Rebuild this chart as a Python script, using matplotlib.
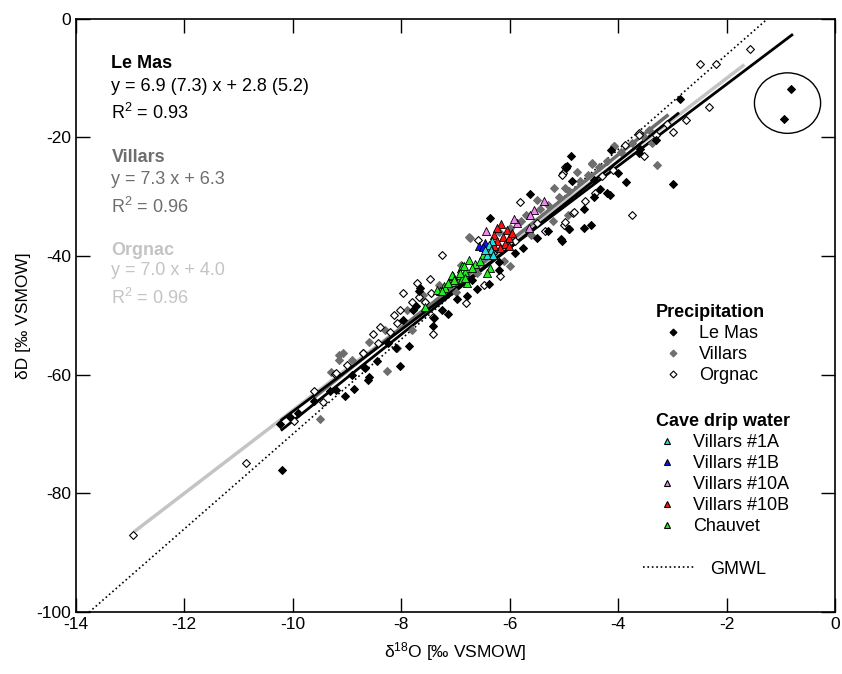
import numpy as np
import matplotlib
matplotlib.use("Agg")
import matplotlib.pyplot as plt
from matplotlib.lines import Line2D
from matplotlib.patches import Ellipse

plt.rcParams['font.family'] = ['Liberation Sans', 'DejaVu Sans']
plt.rcParams['mathtext.fontset'] = 'custom'
plt.rcParams['mathtext.rm'] = 'Liberation Sans'
plt.rcParams['mathtext.it'] = 'Liberation Sans:italic'
plt.rcParams['axes.unicode_minus'] = False

# precipitation (d18O, dD)
lemas_x = [-0.81, -0.95, -10.2, -3.86, -3.0, -4.87, -4.96, -4.13, -4.21, -4.34, -4.45, -4.64,
           -4.63, -4.51, -4.90, -5.06, -4.85, -3.61, -2.87, -4.16, -5.62, -6.37, -5.04, -4.91,
           -5.75, -6.19, -6.39, -7.67, -7.73, -7.78, -7.13, -7.25, -7.42, -7.96, -7.85, -8.02,
           -8.69, -8.45, -8.24, -6.97, -6.79, -7.65, -8.60, -9.31, -9.20, -9.04, -8.87, -8.67,
           -8.62, -10.05, -10.23, -4.95, -5.9, -5.5, -5.3, -6.2, -6.6, -7.4, -8.1, -8.9,
           -9.6, -9.9, -3.6, -3.3, -4.0, -4.45, -6.7]
lemas_y = [-11.9, -16.8, -76.1, -27.5, -27.8, -23.2, -25.1, -22.1, -29.4, -28.6, -30.0, -32.1,
           -35.3, -34.7, -35.4, -37.1, -27.4, -22.6, -13.5, -29.7, -29.5, -33.6, -37.5, -35.4,
           -38.7, -42.3, -44.7, -45.9, -48.4, -49.0, -49.7, -49.0, -51.8, -50.7, -55.2, -58.5,
           -58.7, -57.6, -54.6, -47.3, -46.8, -45.4, -60.3, -62.8, -62.6, -63.6, -62.4, -58.9,
           -60.9, -67.1, -68.3, -24.8, -39.5, -37.0, -35.8, -41.0, -45.5, -50.5, -55.5, -60.0,
           -64.5, -66.5, -22.0, -20.5, -26.0, -27.2, -44.0]

villars_x = [-3.28, -4.07, -4.48, -4.76, -4.98, -4.93, -3.38, -4.48, -5.19, -5.50, -6.73, -5.99,
             -6.11, -9.14, -9.07, -8.27, -8.08, -7.80, -7.59, -6.76, -9.15, -9.50, -3.44, -4.08,
             -6.4, -6.2, -6.0, -5.8, -5.7, -5.45, -5.3, -5.1, -4.9, -4.7, -4.55, -4.35,
             -4.2, -3.95, -3.75, -3.55, -6.9, -7.3, -7.6, -7.9, -8.3, -8.6, -8.9, -9.3,
             -7.0, -6.6, -5.6, -5.2]
villars_y = [-24.7, -21.4, -24.3, -25.8, -28.5, -33.0, -20.9, -24.4, -28.5, -30.5, -37.0, -41.7,
             -40.9, -56.6, -56.3, -59.4, -55.5, -52.4, -47.6, -36.8, -57.5, -67.5, -18.7, -21.5,
             -38.5, -36.0, -35.2, -34.0, -33.0, -32.0, -31.3, -30.0, -29.0, -27.3, -26.3, -25.0,
             -24.0, -22.4, -21.0, -19.8, -41.5, -44.8, -46.5, -49.0, -52.5, -54.5, -57.5, -59.5,
             -46.0, -42.8, -36.5, -34.0]

orgnac_x = [-2.99, -3.53, -3.75, -3.61, -3.87, -4.42, -4.61, -4.83, -5.00, -5.02, -4.98, -2.50,
            -2.20, -1.58, -2.33, -2.75, -5.82, -5.04, -4.98, -5.35, -6.58, -7.25, -6.18, -6.48,
            -7.47, -4.82, -7.71, -7.96, -7.68, -7.45, -7.56, -8.03, -8.13, -8.08, -8.52, -8.43,
            -8.20, -8.71, -7.41, -7.41, -9.22, -6.80, -10.87, -9.21, -9.44, -9.97, -8.70, -12.94,
            -3.62, -5.5, -5.9, -6.3, -6.9, -7.8, -8.4, -9.0, -9.6, -4.3, -4.1, -3.3, -3.1]
orgnac_y = [-19.0, -23.2, -33.0, -19.3, -21.2, -29.3, -30.7, -32.7, -34.7, -26.0, -24.9, -7.6,
            -7.6, -5.05, -14.9, -17.0, -30.8, -26.3, -34.3, -35.7, -37.2, -39.8, -43.4, -44.9,
            -43.9, -32.6, -44.5, -46.2, -46.9, -46.2, -47.7, -49.1, -50.0, -51.3, -53.1, -54.6,
            -52.8, -56.4, -53.1, -50.2, -59.8, -47.9, -74.8, -59.7, -64.6, -67.8, -56.4, -87.0,
            -19.5, -34.5, -37.5, -39.5, -42.6, -47.8, -52.0, -58.3, -62.8, -26.5, -25.4, -19.6, -17.8]

# cave drip water
v1a_x = [-6.33, -6.39, -6.35, -6.42, -6.45, -6.31]
v1a_y = [-37.5, -38.2, -39.0, -39.8, -38.9, -39.8]
v1b_x = [-6.56, -6.45, -6.50]
v1b_y = [-38.3, -37.8, -38.5]
v10a_x = [-5.36, -5.55, -5.62, -5.87, -5.64, -6.44, -5.92]
v10a_y = [-30.7, -32.3, -33.0, -34.4, -35.3, -35.7, -33.8]
v10b_x = [-6.16, -6.23, -6.06, -6.29, -6.13, -6.02, -6.24, -6.08, -6.18, -5.96, -6.02, -6.29]
v10b_y = [-34.6, -35.3, -35.6, -36.4, -36.7, -37.0, -37.5, -37.9, -38.6, -36.1, -38.3, -38.3]
chauvet_x = [-6.76, -6.65, -6.50, -6.88, -6.70, -6.82, -6.36, -6.42, -6.91, -7.04, -6.88, -7.07,
             -7.22, -6.54, -6.79, -6.85, -6.91, -7.07, -7.02, -7.19, -7.29, -7.34, -6.82, -7.13,
             -7.56, -7.25]
chauvet_y = [-40.6, -41.3, -39.8, -41.7, -42.0, -42.6, -42.0, -42.9, -43.1, -43.4, -43.9, -44.3,
             -45.1, -40.9, -44.5, -41.7, -42.9, -43.1, -44.1, -45.4, -45.9, -45.7, -43.7, -44.5,
             -48.6, -45.9]

# regression lines: (slope, intercept, x range)
fit_lemas_all = (6.9, 2.8, -10.2, -0.8)
fit_lemas_sub = (7.3, 5.2, -10.2, -2.9)
fit_villars = (7.3, 6.3, -9.6, -3.1)
fit_orgnac = (7.0, 4.0, -12.9, -1.7)
gmwl_x = [-14.0, 0.0]

c_vil = '#6e6e6e'
c_org = '#c4c4c4'

fig, ax = plt.subplots(figsize=(8.42, 6.74), dpi=100)
fig.subplots_adjust(left=0.09, right=0.992, top=0.972, bottom=0.092)

ax.plot(gmwl_x, [8 * v + 10 for v in gmwl_x], ':', color='black', lw=1.2, zorder=1)

def fitline(fit, color, lw):
    a, b, x0, x1 = fit
    xs = np.array([x0, x1])
    ax.plot(xs, a * xs + b, '-', color=color, lw=lw, zorder=2)

fitline(fit_orgnac, c_org, 2.5)
fitline(fit_villars, c_vil, 2.5)
fitline(fit_lemas_all, 'black', 2.0)
fitline(fit_lemas_sub, 'black', 2.0)

dkw = dict(marker='D', s=16, linewidths=0.8, zorder=3)
ax.scatter(villars_x, villars_y, c=c_vil, edgecolors=c_vil, **dkw)
ax.scatter(orgnac_x, orgnac_y, c='white', edgecolors='black', **dkw)
ax.scatter(lemas_x, lemas_y, c='black', edgecolors='black', **dkw)

tkw = dict(marker='^', s=34, edgecolors='black', linewidths=0.6, zorder=4)
ax.scatter(chauvet_x, chauvet_y, c='#22ee22', **tkw)
ax.scatter(v10a_x, v10a_y, c='#ee88ee', **tkw)
ax.scatter(v10b_x, v10b_y, c='#ff1010', **tkw)
ax.scatter(v1b_x, v1b_y, c='#1010ff', **tkw)
ax.scatter(v1a_x, v1a_y, c='#22dddd', **tkw)

ax.add_patch(Ellipse((-0.88, -14.2), 1.22, 10.2, fill=False, ec='black', lw=1.0))

ax.set_xlim(-14, 0)
ax.set_ylim(-100, 0)
ax.set_xticks(np.arange(-14, 1, 2))
ax.set_yticks(np.arange(-100, 1, 20))
ax.tick_params(direction='in', length=10, width=1.0, top=True, right=True, labelsize=12.5)
for s in ax.spines.values():
    s.set_linewidth(1.2)
ax.set_xlabel('δ$^{18}$O [‰ VSMOW]', fontsize=12.5, labelpad=6)
ax.set_ylabel('δD [‰ VSMOW]', fontsize=12.5, labelpad=4)

tx = 0.047
fs = 13
ax.text(tx, 0.924, 'Le Mas', transform=ax.transAxes, fontsize=fs, fontweight='bold', va='center')
ax.text(tx, 0.886, 'y = 6.9 (7.3) x + 2.8 (5.2)', transform=ax.transAxes, fontsize=fs, va='center')
ax.text(tx, 0.841, 'R$^2$ = 0.93', transform=ax.transAxes, fontsize=fs, va='center')
ax.text(tx, 0.766, 'Villars', transform=ax.transAxes, fontsize=fs, fontweight='bold', va='center', color=c_vil)
ax.text(tx, 0.730, 'y = 7.3 x + 6.3', transform=ax.transAxes, fontsize=fs, va='center', color=c_vil)
ax.text(tx, 0.683, 'R$^2$ = 0.96', transform=ax.transAxes, fontsize=fs, va='center', color=c_vil)
ax.text(tx, 0.610, 'Orgnac', transform=ax.transAxes, fontsize=fs, fontweight='bold', va='center', color=c_org)
ax.text(tx, 0.576, 'y = 7.0 x + 4.0', transform=ax.transAxes, fontsize=fs, va='center', color=c_org)
ax.text(tx, 0.529, 'R$^2$ = 0.96', transform=ax.transAxes, fontsize=fs, va='center', color=c_org)

def mk(fc, ec, m, ms):
    return Line2D([], [], ls='', marker=m, ms=ms, mfc=fc, mec=ec, mew=0.8)

lkw = dict(frameon=False, fontsize=fs, labelspacing=0.22, handletextpad=0.9,
           handlelength=1.1, borderpad=0.0, title_fontproperties={'weight': 'bold', 'size': fs})
leg1 = ax.legend([mk('black', 'black', 'D', 3.5), mk(c_vil, c_vil, 'D', 3.5), mk('white', 'black', 'D', 3.5)],
                 ['Le Mas', 'Villars', 'Orgnac'], title='Precipitation',
                 loc='upper left', bbox_to_anchor=(0.752, 0.534), **lkw)
ax.add_artist(leg1)
leg2 = ax.legend([mk('#22dddd', 'black', '^', 5), mk('#1010ff', 'black', '^', 5), mk('#ee88ee', 'black', '^', 5),
                  mk('#ff1010', 'black', '^', 5), mk('#22ee22', 'black', '^', 5)],
                 ['Villars #1A', 'Villars #1B', 'Villars #10A', 'Villars #10B', 'Chauvet'],
                 title='Cave drip water', loc='upper left', bbox_to_anchor=(0.752, 0.35), **lkw)
ax.add_artist(leg2)
ax.legend([Line2D([], [], ls=':', color='black', lw=1.2)], ['GMWL'], frameon=False, fontsize=fs,
          handlelength=2.8, handletextpad=0.9, borderpad=0.0,
          loc='upper left', bbox_to_anchor=(0.735, 0.102))

fig.savefig('out.png', dpi=100)
